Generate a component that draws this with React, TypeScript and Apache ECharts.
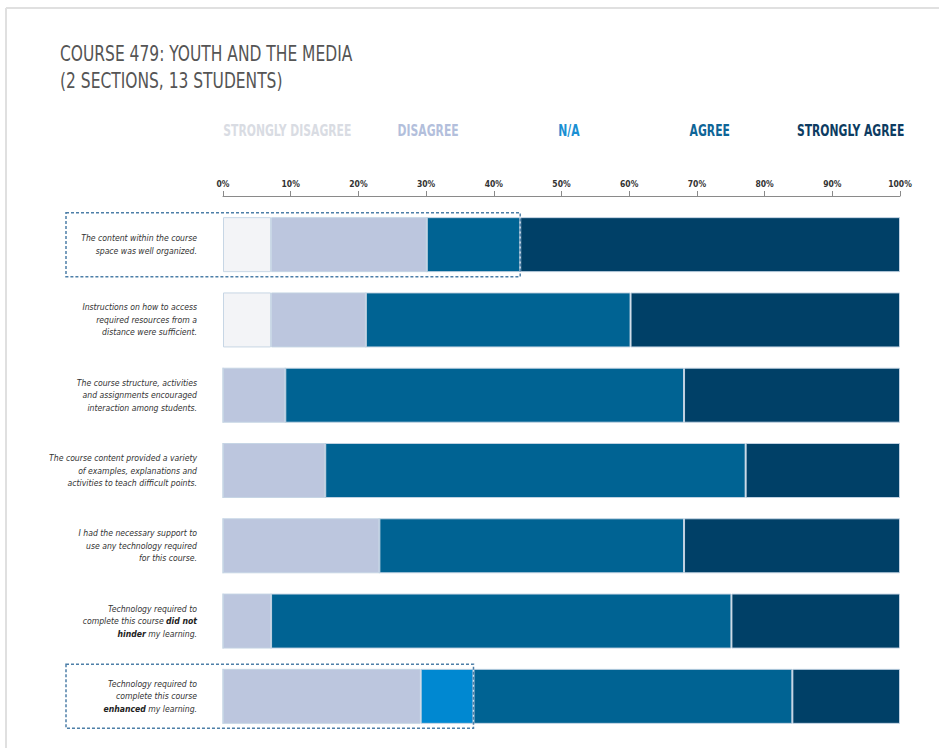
import React, { useEffect, useRef } from "react";
import * as echarts from "echarts";

const categories = [
  "The content within the course\nspace was well organized.",
  "Instructions on how to access\nrequired resources from a\ndistance were sufficient.",
  "The course structure, activities\nand assignments encouraged\ninteraction among students.",
  "The course content provided a variety\nof examples, explanations and\nactivities to teach difficult points.",
  "I had the necessary support to\nuse any technology required\nfor this course.",
  "Technology required to\ncomplete this course **did not**\n**hinder** my learning.",
  "Technology required to\ncomplete this course\n**enhanced** my learning.",
];

const seriesNames = ["STRONGLY DISAGREE", "DISAGREE", "N/A", "AGREE", "STRONGLY AGREE"];
const seriesColors = ["#f3f4f7", "#bcc6de", "#0088d1", "#006393", "#004067"];
const legendColors = ["#d9dce3", "#b3bfdc", "#1a8fd3", "#0e6597", "#0d3c62"];

const stronglyDisagree = [7.1, 7.1, 0, 0, 0, 0, 0];
const disagree = [23.0, 14.0, 9.2, 15.1, 23.1, 7.1, 29.2];
const notApplicable = [0, 0, 0, 0, 0, 0, 7.8];
const agree = [13.8, 39.1, 58.9, 62.1, 45.0, 68.0, 47.1];
const stronglyAgree = [56.1, 39.8, 31.9, 22.8, 31.9, 24.9, 15.9];

const tickValues = [0, 10, 20, 30, 40, 50, 60, 70, 80, 90, 100];

const titleLines = ["COURSE 479: YOUTH AND THE MEDIA", "(2 SECTIONS, 13 STUDENTS)"];

// highlighted rows: [row index, number of stacked series up to the box's right edge]
const highlights = [
  { row: 0, upTo: 4 },
  { row: 6, upTo: 3 },
];

const NARROW = "'DejaVu Sans Condensed', 'DejaVu Sans', sans-serif";

function toRich(label: string): string {
  return label
    .split("\n")
    .map((line) =>
      line
        .split("**")
        .map((p, i) => (p.length ? (i % 2 === 1 ? `{b|${p}}` : `{i|${p}}`) : ""))
        .join("")
    )
    .join("\n");
}

export default function App() {
  const ref = useRef<HTMLDivElement>(null);
  useEffect(() => {
    if (!ref.current) return;
    const chart = echarts.init(ref.current, null, { renderer: "svg" });
    const dataSets = [stronglyDisagree, disagree, notApplicable, agree, stronglyAgree];
    chart.setOption({
      animation: false,
      backgroundColor: "#ffffff",
      grid: { left: 223, right: 39, top: 207, bottom: 14, containLabel: false },
      xAxis: {
        type: "value",
        position: "top",
        min: 0,
        max: 100,
        interval: 10,
        offset: 11,
        axisLine: { show: true, lineStyle: { color: "#8a8a8a", width: 1 } },
        axisTick: { show: true, length: 5, lineStyle: { color: "#8a8a8a" } },
        splitLine: { show: false },
        axisLabel: {
          formatter: (v: number) => (tickValues.includes(v) ? `${v}%` : ""),
          fontFamily: NARROW,
          fontSize: 8.5,
          fontWeight: "bold",
          color: "#333333",
          margin: 8,
        },
      },
      yAxis: {
        type: "category",
        inverse: true,
        data: categories,
        axisLine: { show: false },
        axisTick: { show: false },
        axisLabel: {
          margin: 26,
          formatter: (v: string) => toRich(v),
          rich: {
            i: {
              fontFamily: NARROW,
              fontStyle: "italic",
              fontSize: 8.6,
              color: "#333333",
              lineHeight: 12.5,
            },
            b: {
              fontFamily: NARROW,
              fontStyle: "italic",
              fontWeight: "bold",
              fontSize: 8.6,
              color: "#222222",
              lineHeight: 12.5,
            },
          },
        },
      },
      series: seriesNames.map((n, i) => ({
        name: n,
        type: "bar",
        stack: "total",
        barWidth: 55,
        data: dataSets[i],
        itemStyle: {
          color: seriesColors[i],
          borderColor: "rgba(196,212,228,0.95)",
          borderWidth: 1,
        },
        emphasis: { disabled: true },
      })),
    });

    const boxes: any[] = highlights.map((h) => {
      let end = 0;
      for (let k = 0; k < h.upTo; k++) end += dataSets[k][h.row];
      const p = chart.convertToPixel({ xAxisIndex: 0, yAxisIndex: 0 }, [end, h.row]) as number[];
      return {
        type: "rect",
        shape: { x: 66, y: p[1] - 32, width: p[0] - 66, height: 64 },
        style: { fill: "none", stroke: "#4d7fa8", lineWidth: 1.5, lineDash: [3, 2] },
        z: 100,
      };
    });

    const legendTexts: any[] = seriesNames.map((n, i) => {
      const center = chart.convertToPixel({ xAxisIndex: 0 }, 9.5 + i * 20.8) as number;
      return {
        type: "text",
        x: center,
        y: 130,
        scaleX: 0.8,
        style: {
          text: n,
          fill: legendColors[i],
          font: `bold 15px ${NARROW}`,
          textAlign: "center",
          textVerticalAlign: "middle",
        },
      };
    });

    chart.setOption({
      graphic: [
        {
          type: "line",
          shape: { x1: 6, y1: 8, x2: 939, y2: 8 },
          style: { stroke: "#e0e0e0", lineWidth: 2 },
        },
        {
          type: "line",
          shape: { x1: 6, y1: 8, x2: 6, y2: 748 },
          style: { stroke: "#e0e0e0", lineWidth: 2 },
        },
        {
          type: "text",
          x: 60,
          y: 41,
          scaleX: 0.82,
          style: {
            text: titleLines.join("\n"),
            fill: "#555555",
            font: `normal 21px ${NARROW}`,
            lineHeight: 26.5,
            textAlign: "left",
          },
        },
        ...legendTexts,
        ...boxes,
      ],
    });

    return () => chart.dispose();
  }, []);
  return (
    <div
      ref={ref}
      style={{ position: "fixed", left: 0, top: 0, width: 939, height: 748 }}
    />
  );
}
